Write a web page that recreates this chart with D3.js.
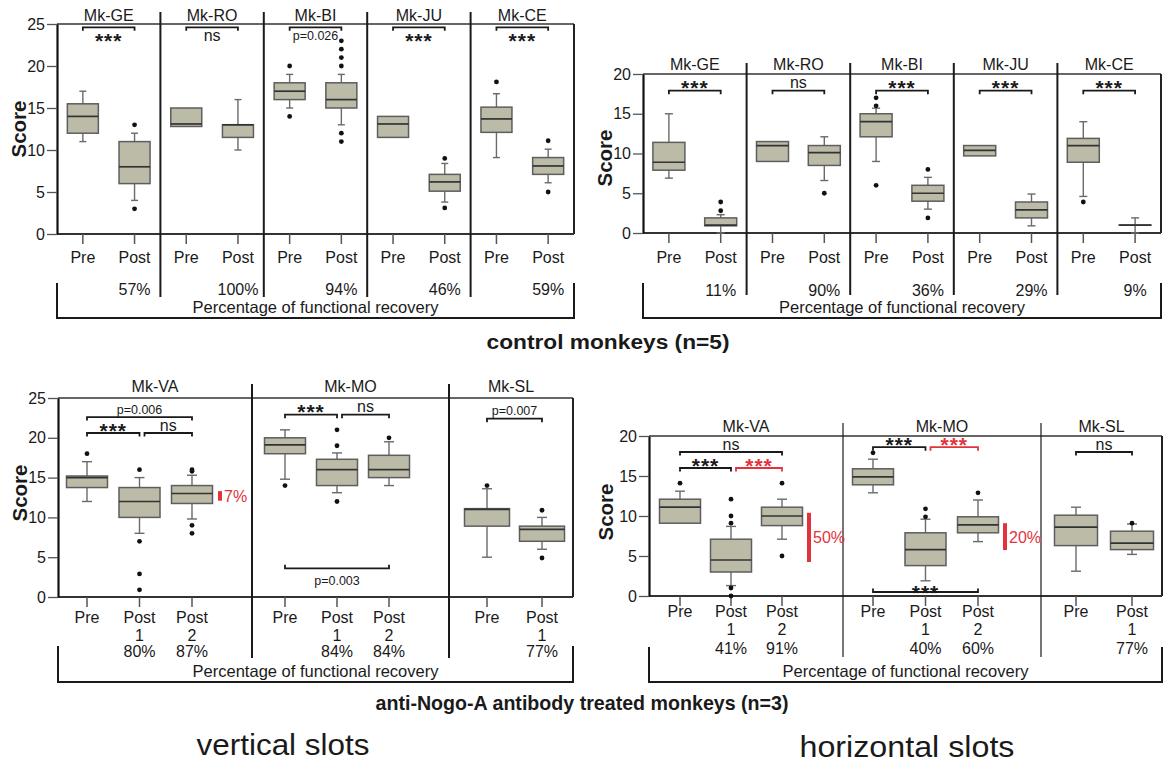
<!DOCTYPE html>
<html>
<head>
<meta charset="utf-8">
<script src="https://cdn.jsdelivr.net/npm/d3@7"></script>
<style>
  body { margin: 0; background: #fff; }
  svg text { font-family: "Liberation Sans", Arial, Helvetica, sans-serif; fill: #1a1a1a; }
</style>
</head>
<body>
<div id="chart"></div>
<script>
// ---- data ----
const ctrlMonkeys = ['Mk-GE', 'Mk-RO', 'Mk-BI', 'Mk-JU', 'Mk-CE'];
const treatMonkeys = ['Mk-VA', 'Mk-MO', 'Mk-SL'];
const ctrlConds = {'Mk-GE': ['Pre', 'Post'], 'Mk-RO': ['Pre', 'Post'], 'Mk-BI': ['Pre', 'Post'], 'Mk-JU': ['Pre', 'Post'], 'Mk-CE': ['Pre', 'Post']};
const treatConds = {'Mk-VA': ['Pre', 'Post 1', 'Post 2'], 'Mk-MO': ['Pre', 'Post 1', 'Post 2'], 'Mk-SL': ['Pre', 'Post 1']};

// [monkey, condition, low whisker, q1, median, q3, high whisker, outliers]
const vertCtrl = [
  ['Mk-GE', 'Pre', 11, 12, 14, 15.5, 17, []],
  ['Mk-GE', 'Post', 4, 6, 8, 11, 12, [13, 3]],
  ['Mk-RO', 'Pre', 12.8, 12.8, 13.1, 15, 15, []],
  ['Mk-RO', 'Post', 10, 11.5, 13, 13, 16, []],
  ['Mk-BI', 'Pre', 15, 16, 17, 18, 19, [20, 14]],
  ['Mk-BI', 'Post', 13, 15, 16, 18, 19, [23, 22, 21, 20, 12, 11]],
  ['Mk-JU', 'Pre', 11.5, 11.5, 13.1, 14, 14, []],
  ['Mk-JU', 'Post', 3.8, 5.1, 6.2, 7.1, 8.4, [9, 3.1]],
  ['Mk-CE', 'Pre', 9.1, 12.1, 13.7, 15.1, 16.7, [18.1]],
  ['Mk-CE', 'Post', 6.1, 7.1, 8.1, 9.1, 10.1, [11.1, 5]]
];
const horizCtrl = [
  ['Mk-GE', 'Pre', 6.9, 7.9, 8.9, 11.4, 15, []],
  ['Mk-GE', 'Post', 0, 0.9, 1, 1.9, 2.3, [3.9, 2.8]],
  ['Mk-RO', 'Pre', 9, 9, 11, 11.5, 11.5, []],
  ['Mk-RO', 'Post', 6.6, 8.5, 10.1, 11, 12.1, [5]],
  ['Mk-BI', 'Pre', 9, 12.1, 14, 15, 15.7, [17, 16, 6]],
  ['Mk-BI', 'Post', 3, 4, 5, 6, 7, [8, 1.9]],
  ['Mk-JU', 'Pre', 9.7, 9.7, 10.4, 11, 11, []],
  ['Mk-JU', 'Post', 0.9, 1.9, 2.9, 3.9, 4.9, []],
  ['Mk-CE', 'Pre', 4.6, 8.9, 11, 11.9, 14, [3.9]],
  ['Mk-CE', 'Post', 0, 1, 1, 1, 1.9, []]
];
const vertTreat = [
  ['Mk-VA', 'Pre', 12, 13.75, 15, 15.2, 17, [18]],
  ['Mk-VA', 'Post 1', 8, 10, 12, 13.75, 15, [16, 7, 2.9, 0.9]],
  ['Mk-VA', 'Post 2', 9.8, 11.75, 13, 14, 15.3, [16, 15.8, 9, 8]],
  ['Mk-MO', 'Pre', 14.8, 18, 19.1, 20, 21, [14]],
  ['Mk-MO', 'Post 1', 13.1, 14, 16, 17.3, 18.1, [21, 19, 12]],
  ['Mk-MO', 'Post 2', 14, 15, 16, 17.8, 19.5, [20]],
  ['Mk-SL', 'Pre', 5, 8.9, 11, 11.1, 13.6, [14]],
  ['Mk-SL', 'Post 1', 6, 7, 8.5, 8.9, 10, [10.9, 4.9]]
];
const horizTreat = [
  ['Mk-VA', 'Pre', 9.1, 9.1, 11.1, 12.1, 13.1, [14.1]],
  ['Mk-VA', 'Post 1', 1.3, 3, 4.5, 7.1, 8.7, [12.1, 10, 9.1, 1, 0]],
  ['Mk-VA', 'Post 2', 7.1, 8.8, 10, 11.1, 12.1, [14.1, 5]],
  ['Mk-MO', 'Pre', 12.9, 13.9, 14.9, 15.9, 17.1, [17.9]],
  ['Mk-MO', 'Post 1', 1.9, 3.8, 5.8, 7.9, 9.6, [10.9, 9.9]],
  ['Mk-MO', 'Post 2', 6.8, 7.9, 8.9, 9.9, 12, [12.9]],
  ['Mk-SL', 'Pre', 3.1, 6.3, 8.6, 10.1, 11.1, []],
  ['Mk-SL', 'Post 1', 5.2, 5.8, 6.6, 8.1, 9, [9.1]]
];

// percentage of functional recovery: [monkey, condition, label]
const vertCtrlRecovery = [['Mk-GE', 'Post', '57%'], ['Mk-RO', 'Post', '100%'], ['Mk-BI', 'Post', '94%'], ['Mk-JU', 'Post', '46%'], ['Mk-CE', 'Post', '59%']];
const horizCtrlRecovery = [['Mk-GE', 'Post', '11%'], ['Mk-RO', 'Post', '90%'], ['Mk-BI', 'Post', '36%'], ['Mk-JU', 'Post', '29%'], ['Mk-CE', 'Post', '9%']];
const vertTreatRecovery = [['Mk-VA', 'Post 1', '80%'], ['Mk-VA', 'Post 2', '87%'], ['Mk-MO', 'Post 1', '84%'], ['Mk-MO', 'Post 2', '84%'], ['Mk-SL', 'Post 1', '77%']];
const horizTreatRecovery = [['Mk-VA', 'Post 1', '41%'], ['Mk-VA', 'Post 2', '91%'], ['Mk-MO', 'Post 1', '40%'], ['Mk-MO', 'Post 2', '60%'], ['Mk-SL', 'Post 1', '77%']];

// significance: [monkey, from, to, score level, label, text side, red]
const vertCtrlSig = [
  ['Mk-GE', 'Pre', 'Post', 24.6, '***', 'below', false],
  ['Mk-RO', 'Pre', 'Post', 24.6, 'ns', 'below', false],
  ['Mk-BI', 'Pre', 'Post', 24.6, 'p=0.026', 'below', false],
  ['Mk-JU', 'Pre', 'Post', 24.6, '***', 'below', false],
  ['Mk-CE', 'Pre', 'Post', 24.6, '***', 'below', false]
];
const horizCtrlSig = ctrlMonkeys.map((m, i) => [m, 'Pre', 'Post', 17.9, i === 1 ? 'ns' : '***', 'above', false]);
const vertTreatSig = [
  ['Mk-VA', 'Pre', 'Post 2', 22.6, 'p=0.006', 'above', false],
  ['Mk-VA', 'Pre', 'Post 1', 20.6, '***', 'above', false],
  ['Mk-VA', 'Post 1', 'Post 2', 20.6, 'ns', 'above', false],
  ['Mk-MO', 'Pre', 'Post 1', 22.9, '***', 'above', false],
  ['Mk-MO', 'Post 1', 'Post 2', 22.9, 'ns', 'above', false],
  ['Mk-MO', 'Pre', 'Post 2', 3.6, 'p=0.003', 'under', false],
  ['Mk-SL', 'Pre', 'Post 1', 22.4, 'p=0.007', 'above', false]
];
const horizTreatSig = [
  ['Mk-VA', 'Pre', 'Post 2', 18, 'ns', 'above', false],
  ['Mk-VA', 'Pre', 'Post 1', 16, '***', 'above', false],
  ['Mk-VA', 'Post 1', 'Post 2', 16, '***', 'above', true],
  ['Mk-MO', 'Pre', 'Post 1', 18.6, '***', 'above', false],
  ['Mk-MO', 'Post 1', 'Post 2', 18.6, '***', 'above', true],
  ['Mk-MO', 'Pre', 'Post 2', 0.5, '***', 'onUp', false],
  ['Mk-SL', 'Pre', 'Post 1', 18, 'ns', 'above', false]
];

// red gain bars Post 1 -> Post 2: [monkey, from score, to score, label]
const vertTreatGain = [['Mk-VA', 12.1, 13.3, '7%']];
const horizTreatGain = [['Mk-VA', 4.25, 10.4, '50%'], ['Mk-MO', 5.75, 9.1, '20%']];

// ---- drawing ----
const RED = '#e2333d';
const BOXFILL = '#bcbba8';
const svg = d3.select('#chart').append('svg').attr('width', 1163).attr('height', 763);

const panels = [
  {boxes: vertCtrl, monkeys: ctrlMonkeys, conds: ctrlConds, rec: vertCtrlRecovery, sig: vertCtrlSig, gain: [],
    yMax: 25, left: 57, right: 574, top: 24, bottom: 234, divTop: 12, divBot: 297, divW: 2,
    titleY: 21, lab1: 263, lab2: 0, pctY: 295, brTop: 283, brBot: 318, recY: 313,
    scoreX: 26, scoreY: 129, boxW: [31, 31, 31, 31, 31], capW: 7},
  {boxes: horizCtrl, monkeys: ctrlMonkeys, conds: ctrlConds, rec: horizCtrlRecovery, sig: horizCtrlSig, gain: [],
    yMax: 20, left: 643, right: 1161, top: 74, bottom: 233, divTop: 63, divBot: 295, divW: 2,
    titleY: 70, lab1: 263, lab2: 0, pctY: 296, brTop: 283, brBot: 318, recY: 313,
    scoreX: 612, scoreY: 158, boxW: [32, 32, 32, 32, 32], capW: 8},
  {boxes: vertTreat, monkeys: treatMonkeys, conds: treatConds, rec: vertTreatRecovery, sig: vertTreatSig, gain: vertTreatGain,
    yMax: 25, left: 58, right: 573, top: 398, bottom: 597, divTop: 384, divBot: 658, divW: 2,
    edges: [58, 252, 449], pads: [29, 33, 38], steps: [52.5, 52, 55],
    titleY: 392, lab1: 623, lab2: 641, pctY: 657, brTop: 646, brBot: 682, recY: 677,
    scoreX: 27, scoreY: 493, boxW: [41, 41, 45], capW: 10, gainDx: 26, gainW: 4},
  {boxes: horizTreat, monkeys: treatMonkeys, conds: treatConds, rec: horizTreatRecovery, sig: horizTreatSig, gain: horizTreatGain,
    yMax: 20, left: 649, right: 1162, top: 436, bottom: 596, divTop: 423, divBot: 657, divW: 1.2,
    edges: [649, 843, 1041], pads: [31, 30, 35], steps: [51, 52.5, 56],
    titleY: 432, lab1: 617, lab2: 635, pctY: 654, brTop: 647, brBot: 682, recY: 677,
    scoreX: 613, scoreY: 512, boxW: [41, 41, 43], capW: 10, gainDx: 25, gainW: 4}
];

panels.forEach(drawPanel);

function drawPanel(p) {
  const g = svg.append('g');
  const y = d3.scaleLinear().domain([0, p.yMax]).range([p.bottom, p.top]);
  const band = d3.scaleBand().domain(p.monkeys).range([p.left, p.right]);
  const edges = p.edges || p.monkeys.map(m => band(m));
  const ends = edges.slice(1).concat([p.right]);

  const xOf = {};
  const bwOf = {};
  p.monkeys.forEach((m, i) => {
    const conds = p.conds[m];
    const xs = p.edges
      ? d3.scalePoint().domain(conds).range([edges[i] + p.pads[i], edges[i] + p.pads[i] + p.steps[i] * (conds.length - 1)])
      : d3.scalePoint().domain(conds).range([edges[i], ends[i]]).padding(0.5);
    conds.forEach(c => { xOf[m + '|' + c] = xs(c); bwOf[m + '|' + c] = p.boxW[i]; });
  });

  // frame
  g.append('line').attr('x1', p.left).attr('x2', p.right).attr('y1', p.top).attr('y2', p.top)
    .attr('stroke', '#333').attr('stroke-width', 1.5);
  g.append('line').attr('x1', p.right).attr('x2', p.right).attr('y1', p.top).attr('y2', p.bottom)
    .attr('stroke', '#222').attr('stroke-width', 2);
  g.append('line').attr('x1', p.left).attr('x2', p.right).attr('y1', p.bottom).attr('y2', p.bottom)
    .attr('stroke', '#333').attr('stroke-width', 1.8);

  // dividers between monkeys
  edges.slice(1).forEach(x => {
    g.append('line').attr('x1', x).attr('x2', x).attr('y1', p.divTop).attr('y2', p.divBot)
      .attr('stroke', '#1a1a1a').attr('stroke-width', p.divW);
  });

  // y axis
  const ax = g.append('g').attr('transform', `translate(${p.left},0)`)
    .call(d3.axisLeft(y).tickValues(d3.range(0, p.yMax + 1, 5)).tickSize(10).tickSizeOuter(0).tickPadding(2));
  ax.select('.domain').attr('stroke', '#111').attr('stroke-width', 2.2);
  ax.selectAll('.tick line').attr('stroke', '#555').attr('stroke-width', 1.3);
  ax.selectAll('.tick text').style('font-size', '16px').attr('fill', '#1a1a1a');

  g.append('text').attr('transform', `translate(${p.scoreX},${p.scoreY}) rotate(-90)`)
    .attr('text-anchor', 'middle').style('font-size', '20.5px').style('font-weight', 'bold').text('Score');

  // monkey titles
  p.monkeys.forEach((m, i) => {
    g.append('text').attr('x', (edges[i] + ends[i]) / 2).attr('y', p.titleY)
      .attr('text-anchor', 'middle').style('font-size', '16px').text(m);
  });

  // x ticks and labels
  Object.keys(xOf).forEach(k => {
    const x = xOf[k];
    const parts = k.split('|')[1].split(' ');
    g.append('line').attr('x1', x).attr('x2', x).attr('y1', p.bottom).attr('y2', p.bottom + 10)
      .attr('stroke', '#555').attr('stroke-width', 1.5);
    g.append('text').attr('x', x).attr('y', p.lab1).attr('text-anchor', 'middle')
      .style('font-size', '16px').text(parts[0]);
    if (parts[1]) {
      g.append('text').attr('x', x).attr('y', p.lab2).attr('text-anchor', 'middle')
        .style('font-size', '16px').text(parts[1]);
    }
  });

  p.rec.forEach(r => {
    g.append('text').attr('x', xOf[r[0] + '|' + r[1]]).attr('y', p.pctY).attr('text-anchor', 'middle')
      .style('font-size', '16px').text(r[2]);
  });

  // bottom bracket
  g.append('path')
    .attr('d', `M${p.left},${p.brTop}V${p.brBot}H${p.right}V${p.brTop}`)
    .attr('fill', 'none').attr('stroke', '#1a1a1a').attr('stroke-width', 2);
  g.append('text').attr('x', (p.left + p.right) / 2).attr('y', p.recY).attr('text-anchor', 'middle')
    .style('font-size', '16.5px').text('Percentage of functional recovery');

  // boxes
  const bg = g.append('g');
  p.boxes.forEach(b => {
    const key = b[0] + '|' + b[1];
    const x = xOf[key];
    const w = bwOf[key];
    const [lo, q1, med, q3, hi, out] = b.slice(2);
    const cw = p.capW;
    if (hi > q3) {
      bg.append('line').attr('x1', x).attr('x2', x).attr('y1', y(q3)).attr('y2', y(hi)).attr('stroke', '#6a6a6a').attr('stroke-width', 1.4);
      bg.append('line').attr('x1', x - cw / 2).attr('x2', x + cw / 2).attr('y1', y(hi)).attr('y2', y(hi)).attr('stroke', '#6a6a6a').attr('stroke-width', 1.4);
    }
    if (lo < q1) {
      bg.append('line').attr('x1', x).attr('x2', x).attr('y1', y(q1)).attr('y2', y(lo)).attr('stroke', '#6a6a6a').attr('stroke-width', 1.4);
      bg.append('line').attr('x1', x - cw / 2).attr('x2', x + cw / 2).attr('y1', y(lo)).attr('y2', y(lo)).attr('stroke', '#6a6a6a').attr('stroke-width', 1.4);
    }
    bg.append('rect').attr('x', x - w / 2).attr('y', y(q3)).attr('width', w).attr('height', Math.max(0.01, y(q1) - y(q3)))
      .attr('fill', BOXFILL).attr('stroke', '#5e5e5e').attr('stroke-width', 1.5);
    bg.append('line').attr('x1', x - w / 2).attr('x2', x + w / 2).attr('y1', y(med)).attr('y2', y(med))
      .attr('stroke', '#333').attr('stroke-width', 1.7);
    out.forEach(o => {
      bg.append('circle').attr('cx', x).attr('cy', y(o)).attr('r', 2.4).attr('fill', '#111');
    });
  });

  // significance brackets
  p.sig.forEach(s => {
    const [m, a, bb, lvl, label, side, red] = s;
    let xa = xOf[m + '|' + a];
    const xb = xOf[m + '|' + bb];
    // leave a small gap where two brackets meet at the same level
    if (p.sig.some(t => t !== s && t[0] === m && t[3] === lvl && t[2] === a)) xa += 5;
    const ly = y(lvl);
    const dy = (side === 'under' || side === 'onUp') ? -3.5 : 3.5;
    const col = red ? RED : '#1a1a1a';
    g.append('path').attr('d', `M${xa},${ly + dy}V${ly}H${xb}V${ly + dy}`)
      .attr('fill', 'none').attr('stroke', col).attr('stroke-width', 1.8);
    const cx = (xa + xb) / 2;
    const isStar = label === '***';
    const fs = isStar ? 21 : (label[0] === 'p' ? 12.5 : 16);
    let cy;
    if (side === 'below') cy = ly + 8;
    else if (side === 'under') cy = ly + 12;
    else if (side === 'onUp') cy = ly - 5;
    else cy = ly - 8;
    const base = isStar ? cy + 0.6 * fs : cy + 0.36 * fs;
    g.append('text').attr('x', cx).attr('y', base).attr('text-anchor', 'middle')
      .style('font-size', fs + 'px').style('font-weight', isStar ? 'bold' : 'normal')
      .style('letter-spacing', isStar ? '1px' : '0px')
      .style('fill', col).text(label);
  });

  // red gain bars
  p.gain.forEach(d => {
    const conds = p.conds[d[0]];
    const x = xOf[d[0] + '|' + conds[conds.length - 1]] + p.gainDx;
    g.append('rect').attr('x', x).attr('y', y(d[2])).attr('width', p.gainW).attr('height', y(d[1]) - y(d[2]))
      .attr('fill', RED);
    g.append('text').attr('x', x + p.gainW + 2).attr('y', (y(d[1]) + y(d[2])) / 2 + 6)
      .style('font-size', '16px').style('fill', RED).text(d[3]);
  });
}

// group titles
svg.append('text').attr('x', 608).attr('y', 349).attr('text-anchor', 'middle')
  .style('font-size', '20px').style('font-weight', 'bold')
  .attr('textLength', 243).attr('lengthAdjust', 'spacingAndGlyphs').text('control monkeys (n=5)');
svg.append('text').attr('x', 582).attr('y', 710).attr('text-anchor', 'middle')
  .style('font-size', '21px').style('font-weight', 'bold')
  .attr('textLength', 413).attr('lengthAdjust', 'spacingAndGlyphs').text('anti-Nogo-A antibody treated monkeys (n=3)');
svg.append('text').attr('x', 283).attr('y', 755).attr('text-anchor', 'middle')
  .style('font-size', '30px').attr('textLength', 173).attr('lengthAdjust', 'spacingAndGlyphs').text('vertical slots');
svg.append('text').attr('x', 907).attr('y', 757).attr('text-anchor', 'middle')
  .style('font-size', '30px').attr('textLength', 215).attr('lengthAdjust', 'spacingAndGlyphs').text('horizontal slots');
</script>
</body>
</html>
